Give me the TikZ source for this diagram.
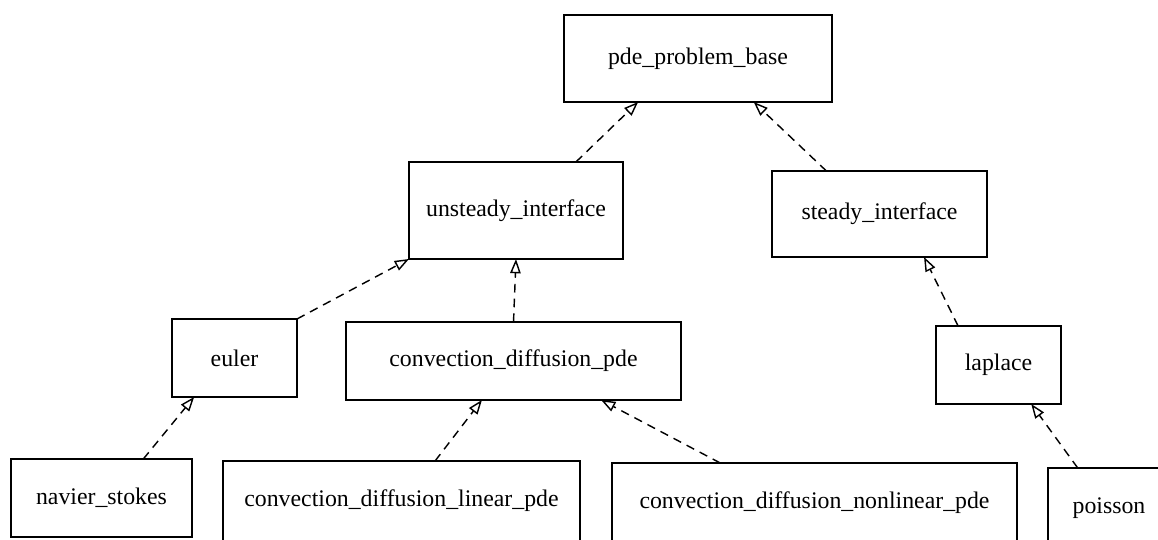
\documentclass[tikz,border=0pt]{standalone}
\usepackage{fontspec}
\setmainfont{Liberation Serif}
\usetikzlibrary{arrows.meta}

\begin{document}
\begin{tikzpicture}[x=0.42pt,y=-0.42pt,
  cls/.style={draw,line width=0.9pt,outer sep=0pt,inner sep=0pt,font=\fontsize{10}{12}\selectfont},
  inh/.style={draw,dashed,dash pattern=on 3.6pt off 2.6pt,line width=0.6pt,-{Triangle[open,length=6pt,width=4.4pt]}}]
  \useasboundingbox (0,0) rectangle (1158,540);
  \clip (0,0) rectangle (1158,540);
  % classes
  \node[cls,minimum width=268*0.42pt,minimum height=87*0.42pt] (base) at (698,58.5) {pde\_problem\_base};
  \node[cls,minimum width=214*0.42pt,minimum height=97*0.42pt] (unst) at (516,210.5) {unsteady\_interface};
  \node[cls,minimum width=215*0.42pt,minimum height=86*0.42pt] (stdy) at (879.5,214) {steady\_interface};
  \node[cls,minimum width=125*0.42pt,minimum height=78*0.42pt] (euler) at (234.5,358) {euler};
  \node[cls,minimum width=335*0.42pt,minimum height=78*0.42pt] (cdp) at (513.5,361) {convection\_diffusion\_pde};
  \node[cls,minimum width=125*0.42pt,minimum height=78*0.42pt] (lapl) at (998.5,365) {laplace};
  \node[cls,minimum width=181*0.42pt,minimum height=78*0.42pt] (navier) at (101.5,498) {navier\_stokes};
  \node[cls,minimum width=357*0.42pt,minimum height=80*0.42pt] (lin) at (401.5,501) {convection\_diffusion\_linear\_pde};
  \node[cls,minimum width=405*0.42pt,minimum height=80*0.42pt] (nonlin) at (814.5,503) {convection\_diffusion\_nonlinear\_pde};
  \node[cls,minimum width=122*0.42pt,minimum height=80*0.42pt] (poisson) at (1109,508) {poisson};
  % inheritance
  \draw[inh] (unst.39.4) -- (base.216.9);
  \draw[inh] (stdy.141.7) -- (base.322.6);
  \draw[inh] (euler.north east) -- (unst.south west);
  \draw[inh] (cdp.north) -- (unst.south);
  \draw[inh] (lapl.136.8) -- (stdy.316.7);
  \draw[inh] (navier.43.2) -- (euler.224.6);
  \draw[inh] (lin.50.1) -- (cdp.231.1);
  \draw[inh] (nonlin.157.7) -- (cdp.336.7);
  \draw[inh] (poisson.128.7) -- (lapl.310.7);
\end{tikzpicture}
\end{document}
